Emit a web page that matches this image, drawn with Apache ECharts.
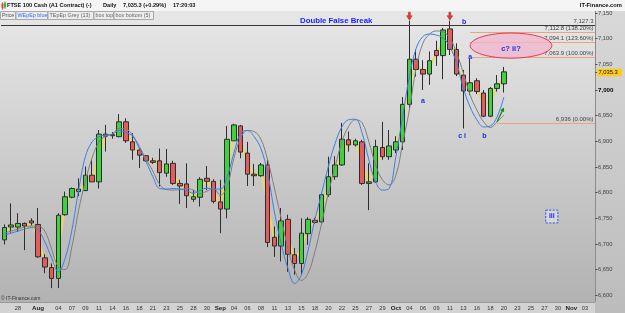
<!DOCTYPE html>
<html>
<head>
<meta charset="utf-8">
<script src="https://cdn.jsdelivr.net/npm/echarts/dist/echarts.min.js"></script>
<style>
  html, body { margin: 0; padding: 0; background: #f5f5f5; }
  #chart { width: 625px; height: 313px; }
</style>
</head>
<body>
<div id="chart"></div>
<script>
// bar dates (6 sessions a week, incl. sunday), the tail is empty future space
const dates = [
  '2016-07-26','2016-07-27','2016-07-28','2016-07-29','2016-07-31',
  '2016-08-01','2016-08-02','2016-08-03','2016-08-04','2016-08-05',
  '2016-08-07','2016-08-08','2016-08-09','2016-08-10','2016-08-11','2016-08-12',
  '2016-08-14','2016-08-15','2016-08-16','2016-08-17','2016-08-18','2016-08-19',
  '2016-08-21','2016-08-22','2016-08-23','2016-08-24','2016-08-25','2016-08-26',
  '2016-08-28','2016-08-29','2016-08-30','2016-08-31','2016-09-01','2016-09-02',
  '2016-09-04','2016-09-05','2016-09-06','2016-09-07','2016-09-08','2016-09-09',
  '2016-09-11','2016-09-12','2016-09-13','2016-09-14','2016-09-15','2016-09-16',
  '2016-09-18','2016-09-19','2016-09-20','2016-09-21','2016-09-22','2016-09-23',
  '2016-09-25','2016-09-26','2016-09-27','2016-09-28','2016-09-29','2016-09-30',
  '2016-10-02','2016-10-03','2016-10-04','2016-10-05','2016-10-06','2016-10-07',
  '2016-10-09','2016-10-10','2016-10-11','2016-10-12','2016-10-13','2016-10-14',
  '2016-10-16','2016-10-17','2016-10-18','2016-10-19','2016-10-20','2016-10-21',
  '2016-10-23','2016-10-24','2016-10-25','2016-10-26','2016-10-27','2016-10-28',
  '2016-10-30','2016-10-31','2016-11-01','2016-11-02','2016-11-03','2016-11-04'
];

// x tick labels
const xTicks = [
  ['2016-07-28','28'],['2016-08-01','Aug'],['2016-08-04','04'],['2016-08-07','07'],
  ['2016-08-09','09'],['2016-08-11','11'],['2016-08-14','14'],['2016-08-16','16'],
  ['2016-08-18','18'],['2016-08-21','21'],['2016-08-23','23'],['2016-08-25','25'],
  ['2016-08-28','28'],['2016-08-30','30'],['2016-09-01','Sep'],['2016-09-04','04'],
  ['2016-09-06','06'],['2016-09-08','08'],['2016-09-11','11'],['2016-09-13','13'],
  ['2016-09-15','15'],['2016-09-18','18'],['2016-09-20','20'],['2016-09-22','22'],
  ['2016-09-25','25'],['2016-09-27','27'],['2016-09-29','29'],['2016-10-02','Oct'],
  ['2016-10-04','04'],['2016-10-06','06'],['2016-10-09','09'],['2016-10-11','11'],
  ['2016-10-13','13'],['2016-10-16','16'],['2016-10-18','18'],['2016-10-20','20'],
  ['2016-10-23','23'],['2016-10-25','25'],['2016-10-27','27'],['2016-10-30','30'],
  ['2016-11-01','Nov'],['2016-11-03','03']
];

const opens = [
  6708,6733,6733,6740,6745,6738,6673,6654,6633,6757,
  6791,6802,6804,6834,6821,6914,6911,6909,6938,6899,
  6883,6872,6862,6862,6838,6857,6818,6817,6787,6791,
  6828,6822,6782,6768,6901,6930,6877,6836,6833,6854,
  6713,6696,6748,6679,6662,6720,6746,6743,6796,6831,
  6854,6903,6893,6899,6818,6821,6888,6870,6883,6899,
  6972,7060,7040,7031,7077,7067,7119,7079,7029,6998,
  7018,6994,6949,7003,7012
];
const closes = [
  6732,6737,6740,6735,6741,6675,6655,6633,6756,6792,
  6808,6807,6834,6821,6914,6910,6913,6938,6901,6883,
  6873,6862,6859,6839,6856,6818,6813,6794,6792,6826,
  6822,6783,6768,6904,6932,6879,6836,6833,6854,6703,
  6696,6745,6680,6662,6721,6748,6742,6796,6831,6854,
  6904,6893,6901,6818,6821,6890,6870,6891,6899,6972,
  7060,7040,7031,7057,7067,7117,7079,7031,6998,7014,
  6997,6949,7003,7012,7035.3
];
const lows = [
  6699,6722,6724,6688,6736,6673,6643,6614,6614,6755,
  6789,6793,6803,6821,6808,6880,6905,6908,6897,6864,
  6848,6860,6856,6812,6831,6815,6778,6770,6782,6773,
  6805,6779,6721,6750,6901,6867,6813,6813,6831,6694,
  6675,6666,6646,6640,6640,6698,6739,6740,6792,6825,
  6852,6880,6890,6815,6766,6819,6864,6864,6877,6883,
  6965,7026,7000,7010,7047,7021,7068,7027,6925,6990,
  6992,6947,6947,6997,6995
];
const highs = [
  6738,6779,6760,6742,6750,6770,6680,6662,6760,6802,
  6810,6828,6851,6864,6922,6932,6918,6953,6945,6916,
  6887,6873,6868,6886,6885,6862,6825,6857,6805,6830,
  6852,6826,6825,6930,6934,6932,6899,6856,6858,6864,
  6734,6770,6757,6692,6750,6752,6751,6799,6870,6871,
  6936,6919,6905,6903,6857,6903,6938,6922,6910,6986,
  7135,7079,7058,7075,7096,7121,7135,7091,7039,7062,
  7023,7000,7006,7029,7045
];

// indicators
const wepepBlue = [
  6717,6721,6725,6729,6732,6727,6704,6673,6646,6672,
  6727,6805,6870,6899,6909,6912,6914,6921,6917,6910,
  6886,6860,6831,6808,6807,6808,6807,6804,6799,6804,
  6809,6807,6807,6831,6877,6916,6921,6909,6886,6838,
  6763,6701,6653,6623,6640,6688,6747,6799,6851,6896,
  6928,6942,6943,6916,6864,6821,6805,6808,6870,6948,
  7026,7081,7104,7109,7107,7101,7084,7052,7003,6967,
  6942,6928,6930,6948,6986
];
const tepepGrey = [
  6721,6725,6729,6733,6735,6735,6725,6690,6655,6650,
  6695,6766,6822,6868,6898,6910,6914,6925,6924,6912,
  6890,6865,6842,6816,6806,6805,6806,6808,6805,6798,
  6803,6808,6795,6812,6867,6906,6921,6919,6904,6864,
  6809,6750,6692,6649,6629,6643,6685,6740,6799,6851,
  6899,6929,6942,6936,6899,6854,6825,6815,6834,6896,
  6961,7042,7091,7109,7115,7113,7101,7072,7033,6990,
  6961,6938,6927,6938,6951
];
const boxLine = [
  6722,6735,6737,6727,6743,6710,6664,6644,6690,6774,
  6800,6805,6819,6828,6868,6912,6912,6924,6920,6891,
  6878,6867,6860,6850,6847,6838,6815,6805,6790,6809,
  6825,6803,6775,6836,6916,6905,6856,6834,6843,6778,
  6704,6720,6714,6670,6690,6734,6744,6770,6813,6842,
  6879,6898,6897,6858,6820,6855,6879,6880,6891,6936,
  7016,7050,7035,7044,7072,7092,7099,7055,7013,7006,
  7007,6971,6976,7007,7024
];

// drawn studies
const topLine = 7127.3;
const topText = '7,127.3';
const fibLevels = [7112.8, 7094.1, 7063.9, 6936];
const fibText = ['7,112.8 (138.20%)', '7,094.1 (123.60%)', '7,063.9 (100.00%)', '6,936 (0.00%)'];
const fibStart = [69, 69, 69, 73];
const falseBreaks = [60, 66];
const waveLabels = [[68.1, 7132, 'b'], [69, 7064, 'a'], [62, 6979, 'a'], [67.8, 6910, 'c i'], [71.1, 6910, 'b']];
const targetZone = [69, 81.1, 7062, 7111];
const targetText = 'c? ii?';
const upArrow = [[73, 6938], [74, 6966]];
const wave3Box = [80.2, 82, 6741, 6766];
const lastPrice = 7035.3;

const FONT = '"Liberation Sans", Arial, sans-serif';
const BLUE = '#1f2ee0';
const tickMap = new Map(xTicks);
const xEnd = dates.length - 0.5;

function txt(x, y, s, font, fill, align, va) {
  return { type: 'text', style: { x, y, text: s, font, fill, align: align || 'left', verticalAlign: va || 'middle' } };
}

function renderNotes(params, api) {
  const P = (x, y) => api.coord([x, y]);
  const kids = [];
  const crisp = v => Math.round(v) + 0.5;

  // resistance line across the chart
  let a = P(-0.5, topLine), b = P(xEnd, topLine);
  kids.push({ type: 'line', shape: { x1: a[0], y1: crisp(a[1]), x2: b[0], y2: crisp(a[1]) }, style: { stroke: '#383838', lineWidth: 1 } });
  kids.push(txt(b[0] - 1.5, crisp(a[1]) - 1, topText, '6px ' + FONT, '#444', 'right', 'bottom'));

  // fib projection lines
  fibLevels.forEach((lv, k) => {
    const s = P(fibStart[k], lv), e = P(xEnd, lv);
    kids.push({ type: 'line', shape: { x1: s[0], y1: crisp(s[1]), x2: e[0], y2: crisp(s[1]) }, style: { stroke: '#f0a27c', lineWidth: 1 } });
    kids.push(txt(e[0] - 1.5, crisp(s[1]) - 1, fibText[k], '6px ' + FONT, '#444', 'right', 'bottom'));
  });

  // target ellipse
  const t1 = P(targetZone[0], targetZone[3]), t2 = P(targetZone[1], targetZone[2]);
  const cx = (t1[0] + t2[0]) / 2, cy = (t1[1] + t2[1]) / 2;
  const rx = (t2[0] - t1[0]) / 2, ry = (t2[1] - t1[1]) / 2;
  const pts = [];
  for (let k = 0; k < 64; k++) {
    const ang = k / 64 * Math.PI * 2;
    pts.push([cx + rx * Math.cos(ang), cy + ry * Math.sin(ang)]);
  }
  kids.push({ type: 'polygon', shape: { points: pts }, style: { fill: 'rgba(240,180,205,0.75)', stroke: '#e23a4a', lineWidth: 1 } });
  const tc = P((targetZone[0] + targetZone[1]) / 2, 7080);
  kids.push(txt(tc[0], tc[1], targetText, 'bold 7.5px ' + FONT, BLUE, 'center'));

  // red arrows over the false breaks
  falseBreaks.forEach(i => {
    const p = P(i, highs[i]);
    const x = p[0], tip = p[1] - 0.5;
    kids.push({ type: 'polygon', shape: { points: [[x - 1, tip - 8], [x + 1, tip - 8], [x + 1, tip - 4.5], [x + 2.8, tip - 4.5], [x, tip], [x - 2.8, tip - 4.5], [x - 1, tip - 4.5]] },
      style: { fill: '#e03a3a', stroke: '#b02828', lineWidth: 0.5 } });
  });

  // wave labels
  waveLabels.forEach(w => {
    const p = P(w[0], w[1]);
    kids.push(txt(p[0], p[1], w[2], 'bold 7px ' + FONT, BLUE, 'center'));
  });

  // green arrow
  const g1 = P(upArrow[0][0], upArrow[0][1]), g2 = P(upArrow[1][0], upArrow[1][1]);
  const dx = g2[0] - g1[0], dy = g2[1] - g1[1], len = Math.hypot(dx, dy);
  const ux = dx / len, uy = dy / len;
  kids.push({ type: 'line', shape: { x1: g1[0], y1: g1[1], x2: g2[0] - ux * 2, y2: g2[1] - uy * 2 }, style: { stroke: '#118a11', lineWidth: 1.3 } });
  kids.push({ type: 'polygon', shape: { points: [[g2[0], g2[1]], [g2[0] - ux * 4 - uy * 2.2, g2[1] - uy * 4 + ux * 2.2], [g2[0] - ux * 4 + uy * 2.2, g2[1] - uy * 4 - ux * 2.2]] }, style: { fill: '#118a11' } });

  // wave iii box
  const b1 = P(wave3Box[0], wave3Box[3]), b2 = P(wave3Box[1], wave3Box[2]);
  kids.push({ type: 'rect', shape: { x: b1[0], y: b1[1], width: b2[0] - b1[0], height: b2[1] - b1[1] },
    style: { fill: 'rgba(232,232,248,0.55)', stroke: '#2f4fe0', lineWidth: 1, lineDash: [2, 1.5] } });
  kids.push(txt((b1[0] + b2[0]) / 2, (b1[1] + b2[1]) / 2, 'iii', 'bold 7px ' + FONT, BLUE, 'center'));

  // last price tag on the scale
  const lp = P(xEnd, lastPrice);
  const ly = Math.round(lp[1]) + 0.5;
  kids.push({ type: 'line', shape: { x1: lp[0], y1: ly, x2: lp[0] + 2.5, y2: ly }, style: { stroke: '#555', lineWidth: 1 } });
  kids.push({ type: 'rect', shape: { x: lp[0] + 2, y: ly - 3.8, width: 25, height: 7.6 }, style: { fill: '#ffcc1a' } });
  kids.push(txt(lp[0] + 3.5, ly, '7,035.3', '5.8px ' + FONT, '#111', 'left'));

  return { type: 'group', children: kids };
}

const chart = echarts.init(document.getElementById('chart'));

const bg = (x, y, w, h, c1, c2) => ({
  type: 'rect', z: -100, shape: { x, y, width: w, height: h },
  style: { fill: new echarts.graphic.LinearGradient(0, 0, 0, 1, [{ offset: 0, color: c1 }, { offset: 1, color: c2 }]) }
});
const tab = (x, w, s, col) => [
  { type: 'rect', z: 100, shape: { x: x + 0.5, y: 11.5, width: w, height: 8 }, style: { fill: '#ececec', stroke: '#a9a9a9', lineWidth: 1 } },
  { type: 'text', z: 101, style: { x: x + 2, y: 15.6, text: s, font: '5.4px ' + FONT, fill: col, verticalAlign: 'middle' } }
];

const graphics = [
  { type: 'rect', z: -100, shape: { x: 0, y: 0, width: 625, height: 11 }, style: { fill: '#f5f5f5' } },
  bg(0, 11, 595, 291, '#e7e7e7', '#b2b2b2'),
  bg(595, 11, 30, 302, '#d8d8d8', '#bcbcbc'),
  { type: 'line', z: -99, shape: { x1: 595.5, y1: 11, x2: 595.5, y2: 302 }, style: { stroke: '#8c8c8c', lineWidth: 1 } },
  { type: 'rect', z: -99, shape: { x: 0, y: 302, width: 595, height: 11 }, style: { fill: '#d3d3d3' } },
  { type: 'line', z: -98, shape: { x1: 0, y1: 302.5, x2: 595, y2: 302.5 }, style: { stroke: '#9a9a9a', lineWidth: 1 } },
  // title icon
  { type: 'line', z: 100, shape: { x1: 2.5, y1: 2, x2: 2.5, y2: 10 }, style: { stroke: '#555', lineWidth: 0.6 } },
  { type: 'rect', z: 101, shape: { x: 1.5, y: 3.5, width: 2, height: 5 }, style: { fill: '#e04040' } },
  { type: 'line', z: 100, shape: { x1: 5, y1: 1.5, x2: 5, y2: 9 }, style: { stroke: '#555', lineWidth: 0.6 } },
  { type: 'rect', z: 101, shape: { x: 4, y: 2.5, width: 2, height: 5 }, style: { fill: '#30c030' } },
  { type: 'text', z: 100, style: { x: 7, y: 5.8, text: 'FTSE 100 Cash (A1 Contract) (-)', font: 'bold 5.6px ' + FONT, fill: '#111', verticalAlign: 'middle' } },
  { type: 'text', z: 100, style: { x: 103, y: 5.8, text: 'Daily', font: 'bold 5.6px ' + FONT, fill: '#111', verticalAlign: 'middle' } },
  { type: 'text', z: 100, style: { x: 123, y: 5.8, text: '7,035.3 (+0.29%)', font: 'bold 5.6px ' + FONT, fill: '#111', verticalAlign: 'middle' } },
  { type: 'text', z: 100, style: { x: 173, y: 5.8, text: '17:20:03', font: 'bold 5.6px ' + FONT, fill: '#111', verticalAlign: 'middle' } },
  { type: 'text', z: 100, style: { x: 622, y: 5.5, text: 'IT-Finance.com', font: 'bold 5.8px ' + FONT, fill: '#111', align: 'right', verticalAlign: 'middle' } },
  ...tab(0, 15, 'Price', '#555'),
  ...tab(15.5, 31.5, 'WEpEp blue', '#2f6fe8'),
  ...tab(47.5, 45.5, 'TEpEp Grey (13)', '#666'),
  ...tab(93.5, 19.5, 'box top', '#666'),
  ...tab(113.5, 39.5, 'box bottom (5)', '#666'),
  { type: 'text', z: 100, style: { x: 300, y: 20.5, text: 'Double False Break', font: 'bold 7.8px ' + FONT, fill: '#1a1aff', verticalAlign: 'middle' } },
  { type: 'text', z: 100, style: { x: 1, y: 298.7, text: '\u00a9 IT-Finance.com', font: '5px ' + FONT, fill: '#333', verticalAlign: 'middle' } }
];

const option = {
  animation: false,
  backgroundColor: 'transparent',
  graphic: { elements: graphics },
  grid: { left: 1, right: 30, top: 13, bottom: 17.7, containLabel: false, outerBoundsMode: 'none' },
  xAxis: [
    {
      type: 'category', data: dates, boundaryGap: true, offset: 6.7,
      axisLine: { show: false, onZero: false }, axisTick: { show: false }, splitLine: { show: false },
      axisLabel: {
        interval: (i, v) => tickMap.has(v),
        formatter: v => {
          const t = tickMap.get(v) || '';
          return /^[A-Z]/.test(t) ? '{m|' + t + '}' : t;
        },
        margin: 3.2, fontSize: 5.6, color: '#333', fontFamily: FONT,
        rich: { m: { fontWeight: 'bold', fontSize: 6.2, color: '#222', fontFamily: FONT } }
      }
    },
    { type: 'value', min: -0.5, max: xEnd, show: false, axisLine: { onZero: false } }
  ],
  yAxis: {
    type: 'value', position: 'right', min: 6600, max: 7150, interval: 50, scale: true,
    axisLine: { show: false, onZero: false }, splitLine: { show: false },
    axisTick: { show: true, length: 2.5, lineStyle: { color: '#555' } },
    axisLabel: {
      margin: 3, fontSize: 5.8, color: '#444', fontFamily: FONT,
      formatter: v => v === 7000 ? '{b|7,000}' : v.toLocaleString('en-US'),
      rich: { b: { fontWeight: 'bold', fontSize: 6.2, color: '#000', fontFamily: FONT } }
    }
  },
  series: [
    {
      name: 'box', type: 'line', data: boxLine, z: 1, symbol: 'none', silent: true,
      lineStyle: { color: '#e6da5e', width: 2 }
    },
    {
      name: 'FTSE 100', type: 'candlestick', z: 2, barWidth: 5,
      data: opens.map((o, i) => [o, closes[i], lows[i], highs[i]]),
      itemStyle: { color: '#3fd23f', color0: '#e65c5c', borderColor: '#2d2d2d', borderColor0: '#2d2d2d', borderWidth: 1 }
    },
    {
      name: 'TEpEp Grey (13)', type: 'line', data: tepepGrey, z: 3, symbol: 'none', smooth: 0.4, silent: true,
      lineStyle: { color: '#7e7e7e', width: 1 }
    },
    {
      name: 'WEpEp blue', type: 'line', data: wepepBlue, z: 4, symbol: 'none', smooth: 0.4, silent: true,
      lineStyle: { color: '#3d7de6', width: 1 }
    },
    {
      name: 'notes', type: 'custom', xAxisIndex: 1, yAxisIndex: 0, z: 10, clip: false, silent: true,
      data: [[0, 7000]], renderItem: renderNotes
    }
  ]
};

chart.setOption(option);
</script>
</body>
</html>
